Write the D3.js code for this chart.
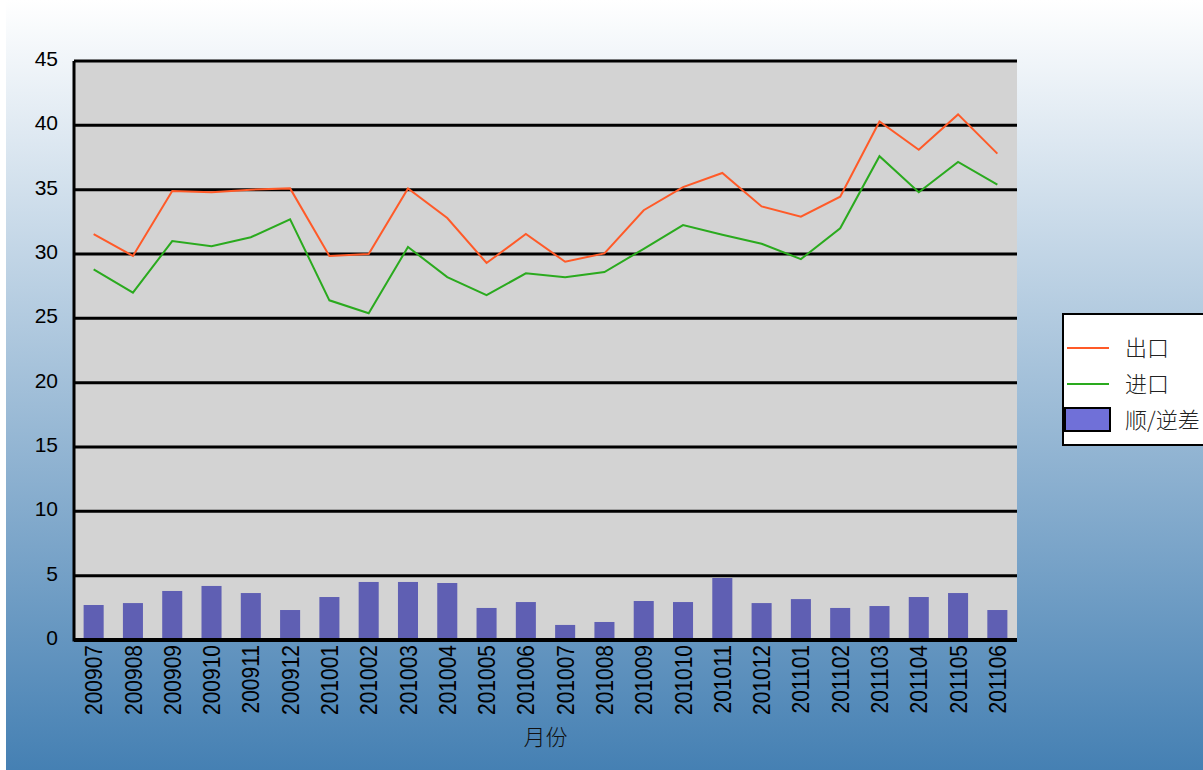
<!DOCTYPE html>
<html>
<head>
<meta charset="utf-8">
<script src="https://cdn.jsdelivr.net/npm/d3@7"></script>
<style>
  body { margin: 0; background: #fff; }
  svg { display: block; font-family: "Liberation Sans", Arial, sans-serif; }
</style>
</head>
<body>
<svg id="chart" width="1203" height="770"></svg>
<script>
const months = ["200907","200908","200909","200910","200911","200912","201001","201002","201003","201004","201005","201006",
  "201007","201008","201009","201010","201011","201012","201101","201102","201103","201104","201105","201106"];
const exportVals = [31.55,29.85,34.9,34.8,35.0,35.1,29.85,30.0,35.1,32.8,29.3,31.55,
  29.4,30.05,33.4,35.2,36.3,33.7,32.9,34.45,40.3,38.1,40.85,37.8];
const importVals = [28.8,27.0,31.0,30.6,31.3,32.7,26.4,25.4,30.55,28.2,26.8,28.5,
  28.2,28.6,30.4,32.25,31.5,30.8,29.6,32.0,37.6,34.8,37.15,35.4];
const balanceVals = [2.72,2.87,3.81,4.2,3.65,2.33,3.34,4.51,4.51,4.43,2.49,2.95,
  1.17,1.4,3.03,2.95,4.82,2.87,3.18,2.49,2.64,3.34,3.65,2.33];
const yTicks = [0,5,10,15,20,25,30,35,40,45];
const legendItems = [
  { label: "出口", kind: "line", color: "#ff5a28" },
  { label: "进口", kind: "line", color: "#2aaa1e" },
  { label: "顺/逆差", kind: "rect", color: "#7070d8" }
];

const svg = d3.select("#chart");
const margin = { top: 61, left: 74, right: 186, bottom: 130 };
const width = 1203 - margin.left - margin.right;
const height = 770 - margin.top - margin.bottom;

// background gradient
const defs = svg.append("defs");
const grad = defs.append("linearGradient").attr("id", "bg")
  .attr("x1", 0).attr("y1", 0).attr("x2", 0).attr("y2", 1);
grad.append("stop").attr("offset", "0%").attr("stop-color", "#ffffff");
grad.append("stop").attr("offset", "100%").attr("stop-color", "#4580b3");
svg.append("rect").attr("x", 6).attr("y", 0).attr("width", 1197).attr("height", 770)
  .attr("fill", "url(#bg)");

const g = svg.append("g").attr("transform", `translate(${margin.left},${margin.top})`);

const x = d3.scaleBand().domain(months).range([0, width]).paddingInner(0.49).paddingOuter(0.245);
const xp = d3.scalePoint().domain(months).range([0, width]).padding(0.5);
const y = d3.scaleLinear().domain([0, 45]).range([height, 0]);

g.append("rect").attr("width", width).attr("height", height).attr("fill", "#d3d3d3");

// gridlines
g.selectAll(".grid").data(yTicks).join("line")
  .attr("x1", 0).attr("x2", width)
  .attr("y1", d => y(d)).attr("y2", d => y(d))
  .attr("stroke", "#000").attr("stroke-width", 3);

// bars
g.selectAll(".bar").data(balanceVals).join("rect")
  .attr("x", (d, i) => x(months[i]))
  .attr("width", x.bandwidth())
  .attr("y", d => y(d))
  .attr("height", d => y(0) - y(d))
  .attr("fill", "#5f5fb3");

// lines
const line = d3.line().x((d, i) => xp(months[i])).y(d => y(d));
g.append("path").datum(importVals).attr("d", line)
  .attr("fill", "none").attr("stroke", "#2aaa1e").attr("stroke-width", 2);
g.append("path").datum(exportVals).attr("d", line)
  .attr("fill", "none").attr("stroke", "#ff5a28").attr("stroke-width", 2);

// axes
g.append("line").attr("x1", 0).attr("x2", 0).attr("y1", 0).attr("y2", height + 1.5)
  .attr("stroke", "#000").attr("stroke-width", 3);
g.append("line").attr("x1", 0).attr("x2", width).attr("y1", height).attr("y2", height)
  .attr("stroke", "#000").attr("stroke-width", 4);

const yAxis = g.append("g").call(d3.axisLeft(y).tickValues(yTicks).tickSize(0).tickPadding(16));
yAxis.select(".domain").remove();
yAxis.selectAll("text").attr("font-size", 21).attr("fill", "#000")
  .attr("font-family", "'Liberation Sans', Arial, sans-serif").attr("dy", "0.22em");

const xAxis = g.append("g").attr("transform", `translate(0,${height})`)
  .call(d3.axisBottom(xp).tickSize(0));
xAxis.select(".domain").remove();
xAxis.selectAll("text")
  .attr("font-size", 21).attr("fill", "#000")
  .attr("font-family", "'Liberation Sans', Arial, sans-serif")
  .attr("transform", "rotate(-90) scale(1,1.1)")
  .attr("text-anchor", "end")
  .attr("x", -5).attr("y", 0).attr("dy", "0.35em");

g.append("text").attr("x", width / 2).attr("y", height + 105)
  .attr("text-anchor", "middle").attr("font-size", 22)
  .attr("font-family", "'Noto Sans CJK SC', sans-serif").attr("font-weight", 300)
  .attr("fill", "#111")
  .text("月份");

// legend
const lg = svg.append("g").attr("transform", "translate(1062,313)");
lg.append("rect").attr("x", 1).attr("y", 1).attr("width", 150).attr("height", 131)
  .attr("fill", "#fff").attr("stroke", "#000").attr("stroke-width", 2);
legendItems.forEach((it, i) => {
  const cy = 35 + i * 36;
  if (it.kind === "line") {
    lg.append("line").attr("x1", 5).attr("x2", 47).attr("y1", cy).attr("y2", cy)
      .attr("stroke", it.color).attr("stroke-width", 2);
  } else {
    lg.append("rect").attr("x", 3).attr("y", cy - 12).attr("width", 45).attr("height", 23)
      .attr("fill", it.color).attr("stroke", "#000").attr("stroke-width", 2);
  }
  lg.append("text").attr("x", 63).attr("y", cy).attr("dy", "0.35em")
    .attr("font-size", 22).attr("font-family", "'Noto Sans CJK SC', sans-serif")
    .attr("font-weight", 300).attr("fill", "#222").text(it.label);
});
</script>
</body>
</html>
